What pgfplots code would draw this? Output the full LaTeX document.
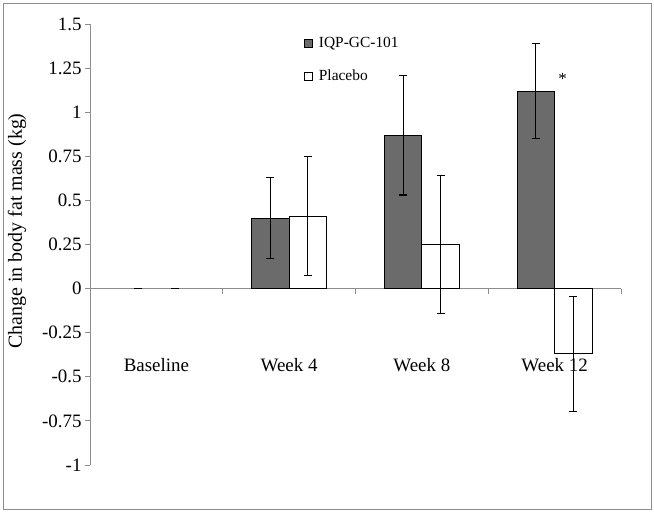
\documentclass[border=0pt]{standalone}
\usepackage{pgfplots}
\pgfplotsset{compat=1.18}
\usepackage{fontspec}
\setmainfont{Liberation Serif}
\definecolor{bardark}{HTML}{6B6B6B}
\definecolor{axisgray}{HTML}{8C8C8C}
\begin{document}
\begin{tikzpicture}[x=1bp,y=1bp]
\path (0,0) rectangle (654,512);
\draw[axisgray, line width=0.8bp] (3,3) rectangle (651,509);
\node[rotate=90, font=\fontsize{20}{24}\selectfont] at (17,281) {Change in body fat mass (kg)};
\begin{axis}[
  at={(90bp,47bp)}, anchor=south west,
  scale only axis, width=531bp, height=441bp,
  xmin=-0.5, xmax=3.5, ymin=-1, ymax=1.5,
  axis y line=left, axis x line=middle,
  axis line style={draw=axisgray, line width=0.8bp, -},
  xtick={-0.5,0.5,1.5,2.5,3.5}, xticklabels={},
  ytick={-1,-0.75,-0.5,-0.25,0,0.25,0.5,0.75,1,1.25,1.5},
  tick align=outside, xtick align=outside,
  major tick length=5bp,
  tick style={draw=axisgray, line width=0.8bp},
  /pgf/number format/assume math mode=true,
  yticklabel style={font=\fontsize{19}{22}\selectfont},
  ybar=0pt, bar width=37.5bp,
  legend style={at={(rel axis cs:0.403,0.975)}, anchor=north west, draw=none, fill=none,
    font=\fontsize{15.5}{18}\selectfont, row sep=17bp, column sep=4bp, inner sep=0pt},
  legend cell align=left,
  legend image code/.code={\draw[#1, line width=0.7bp] (0bp,-4bp) rectangle (8bp,4bp);},
  clip=false,
]
\addplot[fill=bardark, draw=black, line width=1bp, bar shift=-18.75bp,
  error bars/.cd, y dir=both, y explicit,
  error bar style={black, line width=1.2bp},
  error mark options={rotate=90, mark size=4bp, black, line width=1.2bp}]
  coordinates {(1,0.40) +- (0,0.23) (2,0.87) +- (0,0.34) (3,1.12) +- (0,0.27)};
\addplot[fill=white, draw=black, line width=1bp, bar shift=18.75bp,
  error bars/.cd, y dir=both, y explicit,
  error bar style={black, line width=1.2bp},
  error mark options={rotate=90, mark size=4bp, black, line width=1.2bp}]
  coordinates {(1,0.41) +- (0,0.337) (2,0.25) +- (0,0.39) (3,-0.37) +- (0,0.325)};
\legend{IQP-GC-101, Placebo}
% Baseline values (0 change), drawn as error caps only
\addplot[forget plot, draw=none, fill=none, bar shift=-18.75bp,
  error bars/.cd, y dir=both, y explicit,
  error bar style={black, line width=1bp},
  error mark options={rotate=90, mark size=4bp, black, line width=1bp}]
  coordinates {(0,0) +- (0,0)};
\addplot[forget plot, draw=none, fill=none, bar shift=18.75bp,
  error bars/.cd, y dir=both, y explicit,
  error bar style={black, line width=1bp},
  error mark options={rotate=90, mark size=4bp, black, line width=1bp}]
  coordinates {(0,0) +- (0,0)};
\node[font=\fontsize{19}{22}\selectfont] at (axis cs:0,-0.435) {Baseline};
\node[font=\fontsize{19}{22}\selectfont] at (axis cs:1,-0.435) {Week 4};
\node[font=\fontsize{19}{22}\selectfont] at (axis cs:2,-0.435) {Week 8};
\node[font=\fontsize{19}{22}\selectfont] at (axis cs:3,-0.435) {Week 12};
\node[font=\fontsize{17}{20}\selectfont] at (axis cs:3.06,1.19) {*};
\end{axis}
\end{tikzpicture}
\end{document}
